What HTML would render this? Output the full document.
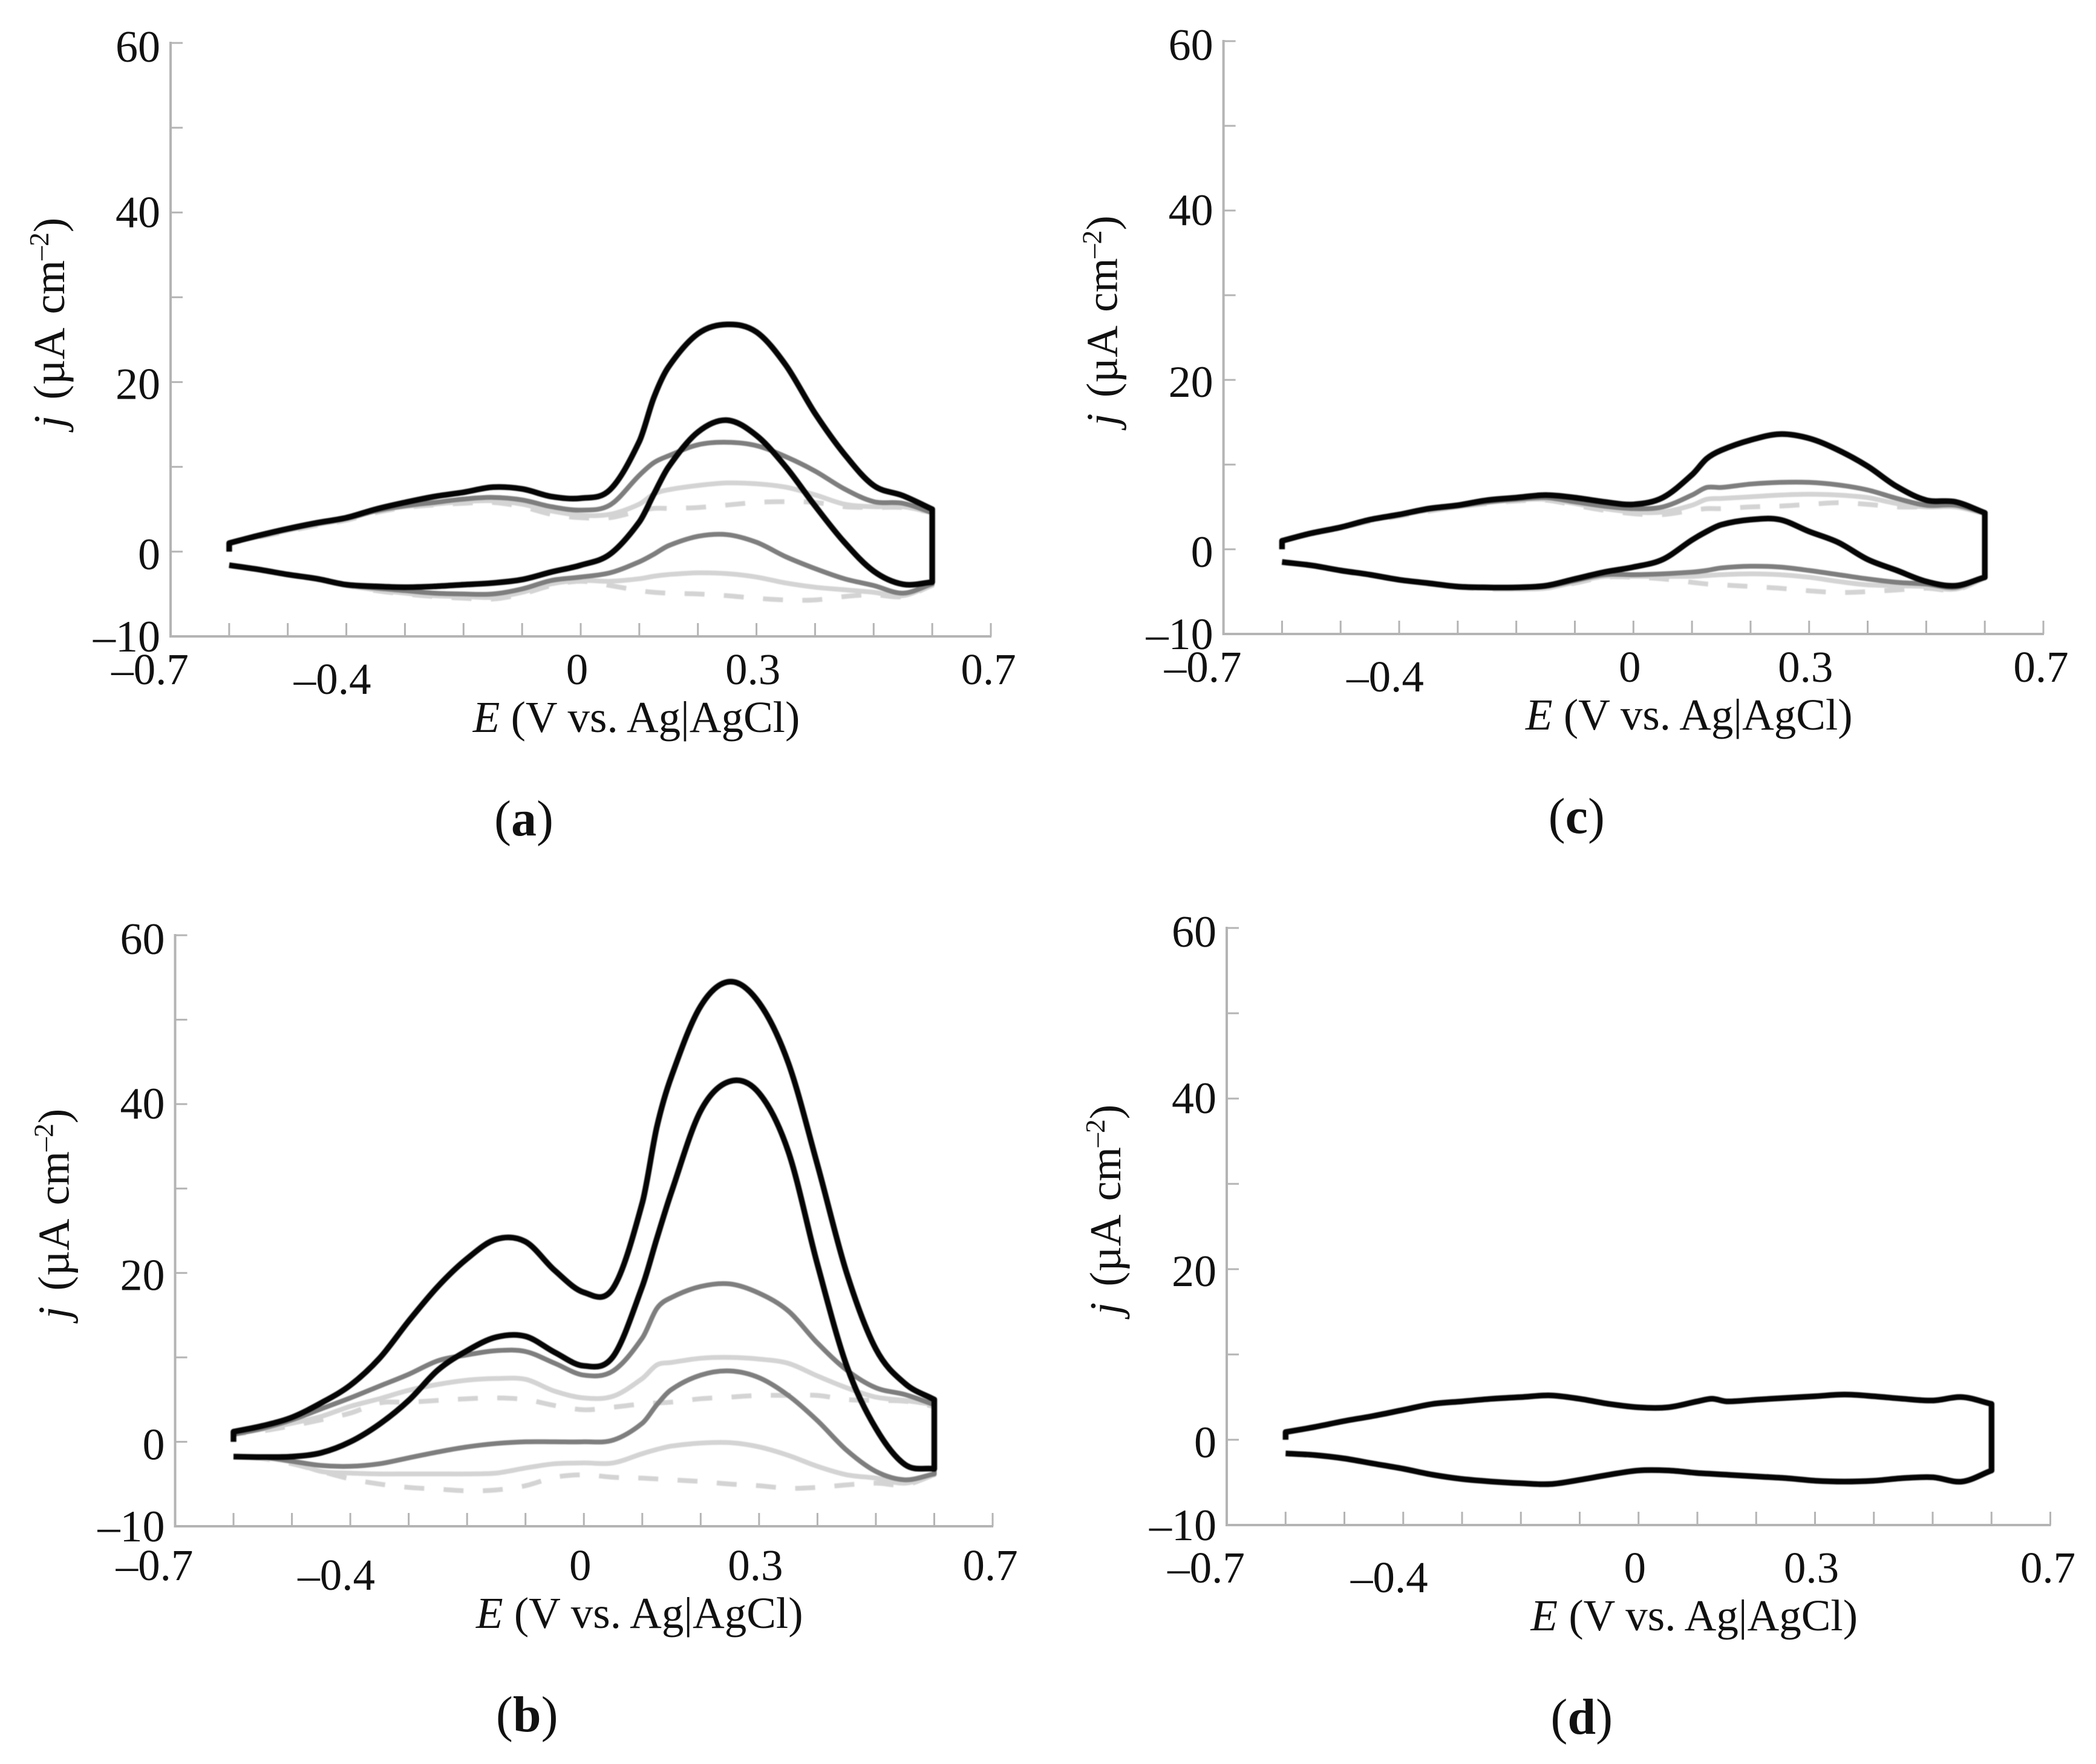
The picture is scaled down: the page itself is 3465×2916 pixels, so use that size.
<!DOCTYPE html>
<html lang="en">
<head>
<meta charset="utf-8">
<title>Cyclic voltammograms, panels a to d</title>
<style>
html,body{margin:0;padding:0;background:#fff;}
#figure{display:block;width:3465px;height:2916px;background:#fff;font-family:"Liberation Serif",serif;fill:#111;}
.marks{filter:blur(0.9px);}
</style>
</head>
<body>
<svg id="figure" xmlns="http://www.w3.org/2000/svg" width="3465" height="2916" viewBox="0 0 3465 2916"></svg>
<script>
/* Shared sampled potentials (V) */
const potentialGrid = [-0.6,-0.55,-0.5,-0.45,-0.4,-0.35,-0.3,-0.25,-0.2,-0.15,-0.1,-0.05,0,0.05,0.1,0.125,0.15,0.2,0.25,0.3,0.35,0.4,0.45,0.5,0.55,0.6];
const xTickValues = [-0.6,-0.5,-0.4,-0.3,-0.2,-0.1,0,0.1,0.2,0.3,0.4,0.5,0.6,0.7];
const yTickValues = [-10,0,10,20,30,40,50,60];
const xLabelValues = [-0.7,-0.4,0,0.3,0.7];
const xLabelTexts = ["–0.7","–0.4","0","0.3","0.7"];
const yLabelValues = [-10,0,20,40,60];
const yLabelTexts = ["–10","0","20","40","60"];
const loopStartCurrent = 0;

/* Panel a */
const aBlackForward = [1,1.9,2.7,3.4,4,5,5.8,6.5,7,7.6,7.4,6.5,6.3,7.3,13,18.2,21.8,25.7,26.8,25.9,22,16.3,11.5,7.8,6.6,5];
const aBlackReverse = [-1.6,-2.1,-2.7,-3.2,-3.9,-4.1,-4.2,-4.1,-3.9,-3.7,-3.3,-2.4,-1.6,-0.3,3.5,6.8,10,14.1,15.5,13.7,10,5.4,1.1,-2.3,-3.85,-3.6];
const aDarkForward = [1,1.8,2.6,3.3,3.9,4.8,5.4,5.8,6.2,6.4,6.1,5.3,4.9,5.5,9,10.5,11.3,12.6,12.9,12.5,11.2,9.5,7.4,5.9,5.7,4.6];
const aDarkReverse = [-1.6,-2.1,-2.7,-3.2,-3.9,-4.3,-4.6,-4.9,-5,-5,-4.4,-3.4,-3,-2.5,-1.2,-0.3,0.7,1.8,2,1.1,-0.6,-2,-3.2,-4,-4.9,-3.8];
const aLightForward = [1,1.8,2.5,3.2,3.8,4.8,5.3,5.6,5.9,6,5.6,4.8,4.3,4.4,5.6,6.8,7.3,7.8,8.1,8,7.6,6.7,5.6,5.3,5.3,4.6];
const aLightReverse = [-1.6,-2.1,-2.7,-3.3,-4,-4.5,-4.9,-5.2,-5.3,-5.4,-4.8,-3.8,-3.4,-3.5,-3.2,-2.9,-2.7,-2.5,-2.6,-3,-3.7,-4.2,-4.5,-4.8,-5.2,-3.9];
const aDashForward = [1,1.7,2.4,3.1,3.7,4.6,5.2,5.5,5.7,5.8,5.3,4.4,4,4,4.8,5.1,5.1,5.2,5.5,5.8,5.9,5.8,5.3,5.2,5.2,4.6];
const aDashReverse = [-1.6,-2.1,-2.7,-3.3,-4,-4.6,-5,-5.3,-5.5,-5.6,-5,-4,-3.5,-4,-4.6,-4.8,-4.9,-5,-5.2,-5.5,-5.7,-5.7,-5.3,-5.1,-5.3,-4];

/* Panel b */
const bBlackForward = [1.2,1.9,2.9,4.6,6.7,9.9,14.3,18.4,21.7,24,23.7,20.3,17.7,18.2,28.3,37.3,43.3,51.6,54.5,52,44.9,32.8,20,11,6.9,5];
const bBlackReverse = [-1.75,-1.8,-1.75,-1.3,0,2.1,4.9,8.5,10.8,12.4,12.5,10.6,9,10.1,18.4,24.1,29.6,39.2,42.7,41.3,34.4,21,9,1.6,-2.7,-3.2];
const bDarkForward = [0.9,1.6,2.6,3.9,5.2,6.6,8,9.6,10.3,10.8,10.7,9.3,7.9,8.4,12.3,15.8,17.1,18.4,18.7,17.6,15.5,11.7,8.5,6.4,5.6,4.4];
const bDarkReverse = [-1.75,-1.8,-2.3,-2.8,-2.9,-2.6,-1.9,-1.2,-0.6,-0.2,0,0,0,0.2,2.2,4.4,6.2,7.9,8.4,7.6,5.5,2.5,-1,-3.5,-4.5,-3.8];
const bLightForward = [0.9,1.5,2.2,3,4.2,5.1,6.1,6.8,7.3,7.5,7.4,6,5.2,5.4,7.5,9.1,9.4,9.9,10,9.8,9.3,7.8,6.4,5.3,4.9,4.4];
const bLightReverse = [-1.75,-1.9,-2.4,-3.5,-3.7,-3.8,-3.8,-3.8,-3.8,-3.7,-3.1,-2.6,-2.5,-2.5,-1.4,-0.9,-0.5,-0.15,-0.1,-0.6,-1.6,-2.9,-3.9,-4.3,-4.9,-3.9];
const bDashForward = [0.9,1.3,1.9,2.6,3.4,4.6,4.7,4.9,5.1,5.2,5,4.3,3.8,4.1,4.5,4.6,4.7,5.1,5.3,5.5,5.5,5.5,5,4.9,4.8,4.2];
const bDashReverse = [-1.75,-2,-2.6,-3.5,-4.4,-5,-5.4,-5.6,-5.8,-5.7,-5.2,-4.2,-3.9,-4.2,-4.3,-4.4,-4.5,-4.7,-5,-5.2,-5.5,-5.4,-5.1,-4.9,-5.1,-3.9];

/* Panel c */
const cBlackForward = [1,1.9,2.6,3.5,4.1,4.8,5.2,5.8,6.1,6.4,6.1,5.6,5.3,6.1,8.8,10.7,11.7,12.9,13.6,13.1,11.7,9.8,7.4,5.8,5.6,4.3];
const cBlackReverse = [-1.5,-1.9,-2.5,-3,-3.6,-4,-4.4,-4.5,-4.5,-4.3,-3.5,-2.7,-2.1,-1.2,1.1,2.1,2.9,3.5,3.5,2.1,0.8,-1.2,-2.5,-3.8,-4.3,-3.3];
const cDarkForward = [1,1.9,2.6,3.5,4.1,4.7,5.1,5.6,5.9,6.1,5.6,5.1,4.8,5,6.4,7.3,7.3,7.7,7.9,7.9,7.6,7,6,5.2,5.2,4.3];
const cDarkReverse = [-1.5,-1.9,-2.5,-3,-3.6,-4,-4.4,-4.5,-4.5,-4.4,-3.7,-3,-3,-2.9,-2.7,-2.5,-2.2,-2,-2.1,-2.5,-3,-3.5,-3.9,-4.1,-4.5,-3.3];
const cLightForward = [1,1.8,2.5,3.4,4,4.6,5,5.5,5.8,5.9,5.4,4.8,4.4,4.4,5.2,5.9,6,6.2,6.4,6.5,6.4,6.1,5.4,5,5,4.2];
const cLightReverse = [-1.5,-1.9,-2.5,-3,-3.6,-4.1,-4.5,-4.6,-4.7,-4.6,-3.9,-3.2,-3.2,-3.2,-3.2,-3.1,-3,-2.9,-3,-3.3,-3.8,-4.2,-4.3,-4.4,-4.7,-3.4];
const cDashForward = [1,1.8,2.5,3.3,3.9,4.5,5,5.4,5.7,5.8,5.2,4.6,4.2,4.1,4.6,4.8,4.8,5,5.1,5.3,5.5,5.3,5,5,5,4.2];
const cDashReverse = [-1.5,-1.9,-2.5,-3,-3.6,-4.1,-4.5,-4.7,-4.7,-4.6,-4,-3.3,-3.3,-3.5,-3.9,-4.1,-4.2,-4.4,-4.6,-4.9,-5.1,-5,-4.8,-4.6,-4.8,-3.4];

/* Panel d */
const dBlackForward = [0.9,1.5,2.2,2.8,3.5,4.2,4.5,4.8,5,5.2,4.8,4.2,3.8,3.8,4.5,4.8,4.5,4.7,4.9,5.1,5.3,5.1,4.8,4.6,5,4.2];
const dBlackReverse = [-1.6,-1.8,-2.2,-2.8,-3.4,-4.1,-4.6,-4.9,-5.1,-5.2,-4.7,-4.1,-3.6,-3.6,-3.9,-4,-4.1,-4.3,-4.5,-4.8,-4.9,-4.8,-4.5,-4.4,-4.9,-3.6];

const SVG_NS = "http://www.w3.org/2000/svg";
const root = document.getElementById("figure");

function node(tag, parent, attrs) {
  const el = document.createElementNS(SVG_NS, tag);
  for (const k in attrs) el.setAttribute(k, attrs[k]);
  parent.appendChild(el);
  return el;
}

/* Cubic Hermite spline that respects the uneven spacing of the sample grid */
function smoothSegment(points) {
  const n = points.length;
  const slope = i => {
    const a = points[Math.max(i - 1, 0)];
    const b = points[Math.min(i + 1, n - 1)];
    return (b[1] - a[1]) / (b[0] - a[0]);
  };
  let d = "";
  for (let i = 0; i < n - 1; i++) {
    const p1 = points[i];
    const p2 = points[i + 1];
    const dx = p2[0] - p1[0];
    const c1x = p1[0] + dx / 3;
    const c1y = p1[1] + slope(i) * dx / 3;
    const c2x = p2[0] - dx / 3;
    const c2y = p2[1] - slope(i + 1) * dx / 3;
    d += " C" + c1x.toFixed(1) + " " + c1y.toFixed(1) + " " + c2x.toFixed(1) + " " + c2y.toFixed(1) + " " + p2[0].toFixed(1) + " " + p2[1].toFixed(1);
  }
  return d;
}

function drawLoop(group, sx, sy, forward, reverse, style, name) {
  const up = potentialGrid.map((e, i) => [sx(e), sy(forward[i])]);
  const down = potentialGrid.map((e, i) => [sx(e), sy(reverse[i])]).reverse();
  const d = "M" + sx(potentialGrid[0]).toFixed(1) + " " + sy(loopStartCurrent).toFixed(1) +
    " L" + up[0][0].toFixed(1) + " " + up[0][1].toFixed(1) + smoothSegment(up) +
    " L" + down[0][0].toFixed(1) + " " + down[0][1].toFixed(1) + smoothSegment(down);
  const path = node("path", group, {
    d: d, fill: "none", stroke: style.color, "stroke-width": style.width,
    "stroke-linejoin": "round", "stroke-linecap": "butt"
  });
  if (style.dash) path.setAttribute("stroke-dasharray", style.dash);
  
  
}

const styleBlack = { color: "#050505", width: 9.5 };
const styleDark = { color: "#7e7e7e", width: 8 };
const styleLight = { color: "#d4d4d4", width: 8 };
const styleDash = { color: "#d4d4d4", width: 8, dash: "33 32" };

function drawPanel(letter, box, loops) {
  const g = node("g", root, {});
  
  

  const sx = e => box.left + (e + 0.7) * (box.right - box.left) / 1.4;
  const sy = j => box.bottom - (j + 10) * (box.bottom - box.top) / 70;

  const axes = node("g", g, { stroke: "#b4b4b4", fill: "none" });
  
  

  const yAxis = node("line", axes, { x1: box.left, x2: box.left, y1: box.top - 2, y2: box.bottom, "stroke-width": 4 });
  
  
  const xAxis = node("line", axes, { x1: box.left - 2, x2: box.right + 1, y1: box.bottom, y2: box.bottom, "stroke-width": 4 });
  
  

  xTickValues.forEach(v => {
    const t = node("line", axes, { x1: sx(v), x2: sx(v), y1: box.bottom, y2: box.bottom - 22, "stroke-width": 3 });
    
    
  });
  yTickValues.forEach(v => {
    const t = node("line", axes, { x1: box.left, x2: box.left + 20, y1: sy(v), y2: sy(v), "stroke-width": 3 });
    
    
  });

  const marks = node("g", g, { class: "marks" });
  
  
  loops.forEach(l => drawLoop(marks, sx, sy, l.forward, l.reverse, l.style, letter + "-" + l.name));

  const xLabelShift = { "-0.7": -34, "-0.4": -23, "0": -6, "0.3": -6, "0.7": -4 };
  xLabelValues.forEach((v, i) => {
    const t = node("text", g, {
      x: sx(v) + xLabelShift[String(v)],
      y: box.bottom + box.drop + (v === -0.4 ? 94 : 78),
      "font-size": 73, "text-anchor": "middle"
    });
    t.textContent = xLabelTexts[i];
    
    
  });
  const yLabelDrop = { "-10": 25, "0": 29, "20": 28, "40": 24, "60": 31 };
  yLabelValues.forEach((v, i) => {
    const t = node("text", g, {
      x: box.left - 17,
      y: sy(v) + yLabelDrop[String(v)],
      "font-size": 74, "text-anchor": "end"
    });
    t.textContent = yLabelTexts[i];
    
    
  });

  const xTitle = node("text", g, {
    x: sx(0) + 92, y: box.bottom + box.drop + 157, "font-size": 73, "text-anchor": "middle"
  });
  
  
  const xTitleVar = node("tspan", xTitle, { "font-style": "italic" });
  xTitleVar.textContent = "E";
  const xTitleRest = node("tspan", xTitle, {});
  xTitleRest.textContent = " (V vs. Ag|AgCl)";

  const yCx = box.left - 176;
  const yCy = (box.top + box.bottom) / 2 - 28;
  const yTitle = node("text", g, {
    x: yCx, y: yCy, "font-size": 73, "word-spacing": 8, "text-anchor": "middle",
    transform: "rotate(-90 " + yCx + " " + yCy + ")"
  });
  
  
  const yTitleVar = node("tspan", yTitle, { "font-style": "italic" });
  yTitleVar.textContent = "j";
  const yTitleMain = node("tspan", yTitle, {});
  yTitleMain.textContent = " (µA cm";
  const yTitleSup = node("tspan", yTitle, { dy: -26, "font-size": 46 });
  yTitleSup.textContent = "–2";
  const yTitleEnd = node("tspan", yTitle, { dy: 26 });
  yTitleEnd.textContent = ")";

  const caption = node("text", g, {
    x: sx(0) - 94, y: box.bottom + box.drop + 328, "font-size": 84, "text-anchor": "middle"
  });
  
  
  const capOpen = node("tspan", caption, {});
  capOpen.textContent = "(";
  const capLetter = node("tspan", caption, { "font-weight": "bold" });
  capLetter.textContent = letter;
  const capClose = node("tspan", caption, {});
  capClose.textContent = ")";
}

drawPanel("a", { left: 282, right: 1638, top: 71, bottom: 1052, drop: 1 }, [
  { name: "dashed-loop", forward: aDashForward, reverse: aDashReverse, style: styleDash },
  { name: "light-loop", forward: aLightForward, reverse: aLightReverse, style: styleLight },
  { name: "dark-loop", forward: aDarkForward, reverse: aDarkReverse, style: styleDark },
  { name: "black-loop", forward: aBlackForward, reverse: aBlackReverse, style: styleBlack }
]);
drawPanel("b", { left: 289.5, right: 1641, top: 1546, bottom: 2523, drop: 11 }, [
  { name: "dashed-loop", forward: bDashForward, reverse: bDashReverse, style: styleDash },
  { name: "light-loop", forward: bLightForward, reverse: bLightReverse, style: styleLight },
  { name: "dark-loop", forward: bDarkForward, reverse: bDarkReverse, style: styleDark },
  { name: "black-loop", forward: bBlackForward, reverse: bBlackReverse, style: styleBlack }
]);
drawPanel("c", { left: 2022.6, right: 3378, top: 68, bottom: 1048, drop: 1 }, [
  { name: "dashed-loop", forward: cDashForward, reverse: cDashReverse, style: styleDash },
  { name: "light-loop", forward: cLightForward, reverse: cLightReverse, style: styleLight },
  { name: "dark-loop", forward: cDarkForward, reverse: cDarkReverse, style: styleDark },
  { name: "black-loop", forward: cBlackForward, reverse: cBlackReverse, style: styleBlack }
]);
drawPanel("d", { left: 2028, right: 3389.5, top: 1534, bottom: 2521, drop: 17 }, [
  { name: "black-loop", forward: dBlackForward, reverse: dBlackReverse, style: styleBlack }
]);
</script>
</body>
</html>
